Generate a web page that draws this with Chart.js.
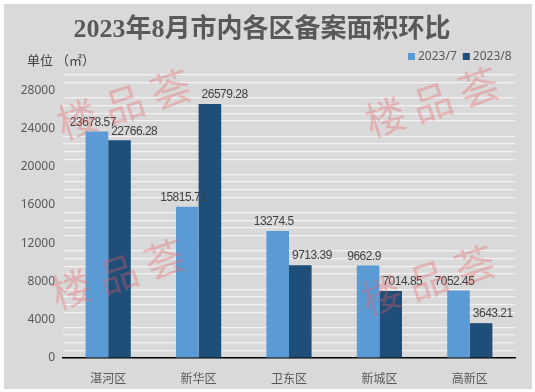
<!DOCTYPE html>
<html>
<head>
<meta charset="utf-8">
<script src="https://cdn.jsdelivr.net/npm/chart.js@4"></script>
<style>
  html, body { margin: 0; padding: 0; background: #ffffff; }
  #areaChart { display: block; }
</style>
</head>
<body>
<canvas id="areaChart" width="535" height="392"></canvas>
<script>
// ===== DATA =====
const districts = ["湛河区", "新华区", "卫东区", "新城区", "高新区"];
const seriesNames = ["2023/7", "2023/8"];
const july = [23678.57, 15815.71, 13274.5, 9662.9, 7052.45];
const august = [22766.28, 26579.28, 9713.39, 7014.85, 3643.21];
const yMax = 29600;
const yStep = 800;
const yLabelStep = 4000;

const TEXT = "#595959";
const FONT = "'Noto Sans', 'Noto Sans CJK SC', sans-serif";
const NUM_FONT = "'Liberation Sans', sans-serif";

// ===== BACKGROUND + HEADER TEXT + WATERMARKS =====
const decorPlugin = {
  id: "decor",
  beforeDraw(chart) {
    const ctx = chart.ctx;
    ctx.save();
    ctx.fillStyle = "#d9d9d9";
    ctx.fillRect(4, 4, 528, 385);

    // title
    ctx.fillStyle = TEXT;
    ctx.textAlign = "center";
    ctx.textBaseline = "middle";
    ctx.font = "bold 26px 'Liberation Serif', 'Noto Sans CJK SC', serif";
    ctx.fillText("2023年8月市内各区备案面积环比", 262, 30);

    // unit
    ctx.textAlign = "left";
    ctx.fillStyle = "#404040";
    ctx.font = "13px 'Noto Sans CJK SC', sans-serif";
    ctx.fillText("单位 （㎡）", 27, 60);

    // legend
    const colors = chart.data.datasets.map(d => d.backgroundColor);
    ctx.font = "12px " + FONT;
    let x = 408;
    seriesNames.forEach((name, i) => {
      ctx.fillStyle = colors[i];
      ctx.fillRect(x, 53, 7, 7);
      ctx.fillStyle = TEXT;
      ctx.fillText(name, x + 10, 57);
      x += 10 + ctx.measureText(name).width + 6;
    });
    ctx.restore();
  },
  afterDraw(chart) {
    const ctx = chart.ctx;
    ctx.save();
    // data labels
    ctx.font = "12px " + NUM_FONT;
    ctx.letterSpacing = "-0.5px";
    ctx.fillStyle = "#404040";
    ctx.textBaseline = "bottom";
    chart.data.datasets.forEach((ds, di) => {
      chart.getDatasetMeta(di).data.forEach((bar, i) => {
        const txt = String(ds.data[i]);
        if (di === 0) {
          ctx.textAlign = "center";
          ctx.fillText(txt, bar.x - 4, bar.y - 3);
        } else {
          ctx.textAlign = "left";
          ctx.fillText(txt, bar.x - bar.width / 2 + 3, bar.y - 3);
        }
      });
    });
    ctx.letterSpacing = "0px";

    // watermarks
    ctx.fillStyle = "rgba(235, 90, 95, 0.32)";
    ctx.font = "40px 'Noto Sans CJK SC', sans-serif";
    ctx.textAlign = "center";
    ctx.textBaseline = "middle";
    [[124, 104], [432, 102], [118, 274], [428, 280]].forEach(([cx, cy]) => {
      ctx.save();
      ctx.translate(cx, cy);
      ctx.rotate(-18 * Math.PI / 180);
      ctx.fillText("楼 品 荟", 0, 0);
      ctx.restore();
    });
    ctx.restore();
  }
};

// ===== CHART SETUP =====
const areaChart = new Chart(
  document.getElementById("areaChart"),
  {
    type: "bar",
    data: {
      labels: districts,
      datasets: [
        { label: seriesNames[0], data: july, backgroundColor: "#5b9bd5" },
        { label: seriesNames[1], data: august, backgroundColor: "#1f4e79" }
      ]
    },
    options: {
      responsive: false,
      animation: false,
      devicePixelRatio: 1,
      categoryPercentage: 0.5,
      barPercentage: 1.0,
      layout: { padding: { left: 0, right: 20, top: 75, bottom: 4 } },
      plugins: {
        legend: { display: false },
        title: { display: false },
        tooltip: { enabled: false }
      },
      scales: {
        x: {
          grid: { display: false },
          border: { color: "#000000", width: 1.5 },
          ticks: { color: TEXT, font: { size: 12, family: FONT }, padding: 6 },
          afterFit(scale) { scale.height = 30; }
        },
        y: {
          min: 0,
          max: yMax,
          border: { display: false },
          grid: {
            color: (c) => (c.tick && c.tick.value % yLabelStep === 0) ? "rgba(0,0,0,0)" : "#f2f2f2",
            lineWidth: 1.2,
            drawTicks: false
          },
          ticks: {
            stepSize: yStep,
            autoSkip: false,
            color: TEXT,
            font: { size: 12, family: FONT },
            padding: 8,
            callback: (v) => (v % yLabelStep === 0 && v <= 28000) ? String(v) : ""
          },
          afterFit(scale) { scale.width = 63; }
        }
      }
    },
    plugins: [decorPlugin]
  }
);
</script>
</body>
</html>
